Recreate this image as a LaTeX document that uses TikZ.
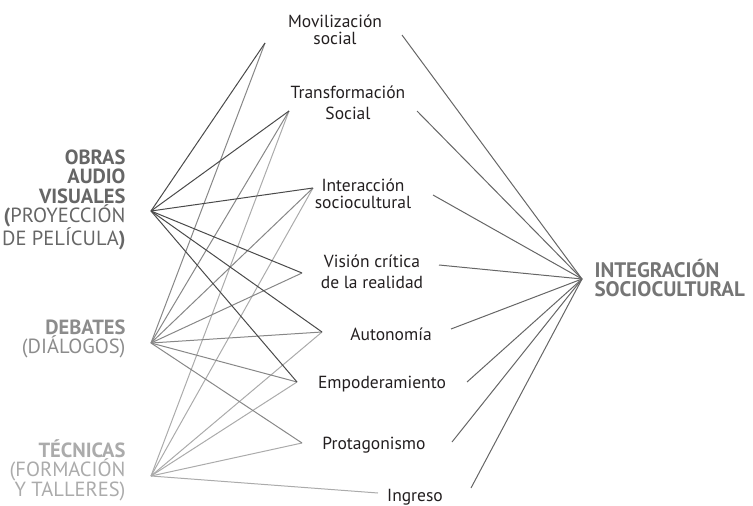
\documentclass[tikz,border=0pt]{standalone}
\usepackage{fontspec}
\setmainfont{PT Sans}
\usepackage{tikz}

\definecolor{obrasline}{HTML}{4A4A4A}
\definecolor{debatesline}{HTML}{878787}
\definecolor{tecnicasline}{HTML}{ABABAB}
\definecolor{integline}{HTML}{666666}
\definecolor{obrastext}{HTML}{666666}
\definecolor{debatestext}{HTML}{8C8C8C}
\definecolor{tecnicastext}{HTML}{ABABAB}
\definecolor{integtext}{HTML}{757575}
\definecolor{midtext}{HTML}{231F20}

\tikzset{
  bigtext/.style={align=right,anchor=east,font=\fontsize{20.5}{19.5}\selectfont},
  midlabel/.style={align=center,text=midtext,font=\fontsize{17.5}{16.5}\selectfont},
  widelabel/.style={midlabel,font=\fontsize{17.5}{21}\selectfont},
  obrasedge/.style={draw=obrasline,line width=1pt},
  debatesedge/.style={draw=debatesline,line width=1pt},
  tecnicasedge/.style={draw=tecnicasline,line width=1pt},
  integedge/.style={draw=integline,line width=1pt}
}

\begin{document}
\begin{tikzpicture}[x=1pt,y=-1pt]
\useasboundingbox (0,0) rectangle (753,506);

% sources on the left
\node[bigtext,text=obrastext] (obras) at (129,200) {\textbf{OBRAS}\\\textbf{AUDIO}\\\textbf{VISUALES}\\\textbf{(}PROYECCIÓN\\DE PELÍCULA\textbf{)}};
\node[bigtext,text=debatestext] (debates) at (129,339) {\textbf{DEBATES}\\(DIÁLOGOS)};
\node[bigtext,text=tecnicastext] (tecnicas) at (129,470) {\textbf{TÉCNICAS}\\(FORMACIÓN\\Y TALLERES)};

% target on the right
\node[align=left,anchor=west,text=integtext,font=\fontsize{21}{19}\selectfont\bfseries] (integ) at (591,278) {INTEGRACIÓN\\SOCIOCULTURAL};

% middle labels
\node[midlabel] (mov) at (335,30) {Movilización\\social};
\node[widelabel] (tra) at (348,103) {Transformación\\Social};
\node[midlabel] (int) at (363,194) {Interacción\\sociocultural};
\node[widelabel] (vis) at (372,272) {Visión crítica\\de la realidad};
\node[midlabel] (aut) at (391,334) {Autonomía};
\node[midlabel] (emp) at (382,384) {Empoderamiento};
\node[midlabel] (pro) at (374,445) {Protagonismo};
\node[midlabel] (ing) at (415,497) {Ingreso};

% line ends
\coordinate (o) at (151,211);
\coordinate (d) at (151,343);
\coordinate (t) at (151,476);
\coordinate (ig) at (582,279);

\coordinate (mov-l) at (265,43);
\coordinate (tra-l) at (289,111);
\coordinate (int-l) at (313,188);
\coordinate (vis-l) at (302,273);
\coordinate (aut-l) at (322,332);
\coordinate (emp-l) at (297,382);
\coordinate (pro-l) at (302,443);
\coordinate (ing-l) at (378,493);

\coordinate (mov-r) at (402,35);
\coordinate (tra-r) at (417,111);
\coordinate (int-r) at (433,195);
\coordinate (vis-r) at (439,265);
\coordinate (aut-r) at (451,329);
\coordinate (emp-r) at (467,382);
\coordinate (pro-r) at (452,442);
\coordinate (ing-r) at (471,488);

% tecnicas
\draw[tecnicasedge] (t) -- (tra-l);
\draw[tecnicasedge] (t) -- (int-l);
\draw[tecnicasedge] (t) -- (aut-l);
\draw[tecnicasedge] (t) -- (emp-l);
\draw[tecnicasedge] (t) -- (pro-l);
\draw[tecnicasedge] (t) -- (ing-l);

% debates
\draw[debatesedge] (d) -- (mov-l);
\draw[debatesedge] (d) -- (tra-l);
\draw[debatesedge] (d) -- (int-l);
\draw[debatesedge] (d) -- (vis-l);
\draw[debatesedge] (d) -- (aut-l);
\draw[debatesedge] (d) -- (emp-l);
\draw[debatesedge] (d) -- (pro-l);

% obras
\draw[obrasedge] (o) -- (mov-l);
\draw[obrasedge] (o) -- (tra-l);
\draw[obrasedge] (o) -- (int-l);
\draw[obrasedge] (o) -- (vis-l);
\draw[obrasedge] (o) -- (aut-l);
\draw[obrasedge] (o) -- (emp-l);

% into integracion
\draw[integedge] (mov-r) -- (ig);
\draw[integedge] (tra-r) -- (ig);
\draw[integedge] (int-r) -- (ig);
\draw[integedge] (vis-r) -- (ig);
\draw[integedge] (aut-r) -- (ig);
\draw[integedge] (emp-r) -- (ig);
\draw[integedge] (pro-r) -- (ig);
\draw[integedge] (ing-r) -- (ig);
\end{tikzpicture}
\end{document}
